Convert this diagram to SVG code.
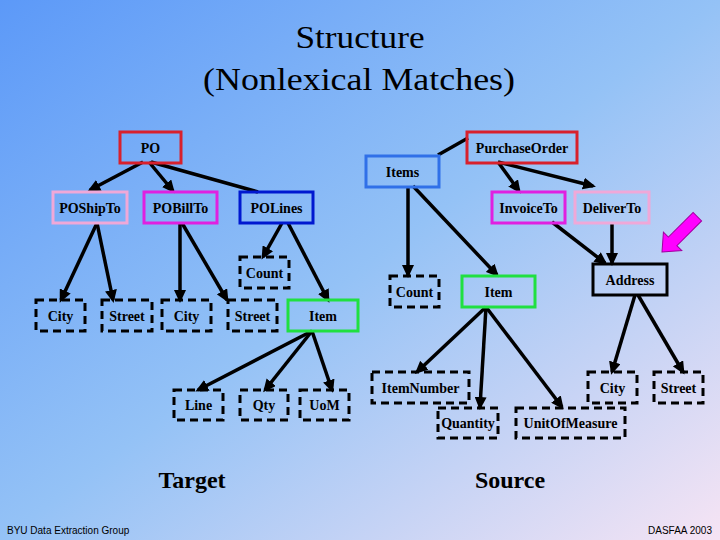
<svg xmlns="http://www.w3.org/2000/svg" width="720" height="540" viewBox="0 0 720 540">
<defs>
<linearGradient id="bg" x1="0" y1="0" x2="1" y2="1">
<stop offset="0" stop-color="#5c99f8"/>
<stop offset="0.5" stop-color="#94c2f6"/>
<stop offset="1" stop-color="#f6e4f4"/>
</linearGradient>
<marker id="ah" markerUnits="userSpaceOnUse" markerWidth="13" markerHeight="12" refX="10" refY="6" orient="auto">
<path d="M0,0 L13,6 L0,12 z" fill="#000"/>
</marker>
<style>
.n{fill:none;stroke-width:3}
.d{fill:none;stroke:#000;stroke-width:3;stroke-dasharray:8 5}
.t{font-family:"Liberation Serif","Times New Roman",serif;font-size:14px;font-weight:bold;fill:#000;text-anchor:middle}
.c line{stroke:#000;stroke-width:3.5}
.a{marker-end:url(#ah)}
.title{font-family:"Liberation Serif","Times New Roman",serif;font-size:32px;fill:#000;text-anchor:middle}
.big{font-family:"Liberation Serif","Times New Roman",serif;font-size:24px;font-weight:bold;fill:#000;text-anchor:middle}
.foot{font-family:"Liberation Sans",Arial,sans-serif;font-size:10px;fill:#000}
.red{stroke:#d8202c}.pink{stroke:#f0a8d8}.mag{stroke:#e020e0}.blue{stroke:#0018d0}.lblue{stroke:#3070e8}.green{stroke:#20e040}.blk{stroke:#000}
</style>
</defs>
<rect width="720" height="540" fill="url(#bg)"/>
<text class="title" x="360" y="48" textLength="129" lengthAdjust="spacingAndGlyphs">Structure</text>
<text class="title" x="359" y="90" textLength="312" lengthAdjust="spacingAndGlyphs">(Nonlexical Matches)</text>

<g id="connectors" class="c">
<line x1="143" y1="162" x2="90" y2="190" class="a"/>
<line x1="149" y1="162" x2="173" y2="191" class="a"/>
<line x1="151" y1="162" x2="258" y2="192"/>
<line x1="97" y1="223" x2="61" y2="300" class="a"/>
<line x1="97" y1="223" x2="113" y2="300" class="a"/>
<line x1="180" y1="223" x2="180" y2="300" class="a"/>
<line x1="182" y1="223" x2="227" y2="300" class="a"/>
<line x1="282" y1="223" x2="263" y2="257" class="a"/>
<line x1="288" y1="223" x2="328" y2="300" class="a"/>
<line x1="312" y1="331" x2="198" y2="390" class="a"/>
<line x1="312" y1="331" x2="265" y2="390" class="a"/>
<line x1="312" y1="331" x2="332" y2="390" class="a"/>
<line x1="468" y1="138" x2="438" y2="155"/>
<line x1="498" y1="162" x2="519" y2="191" class="a"/>
<line x1="498" y1="162" x2="593" y2="186" class="a"/>
<line x1="408" y1="187" x2="408" y2="275" class="a"/>
<line x1="413" y1="186" x2="497" y2="275" class="a"/>
<line x1="552" y1="222" x2="605" y2="263" class="a"/>
<line x1="612" y1="223" x2="612" y2="263" class="a"/>
<line x1="486" y1="307" x2="417" y2="372" class="a"/>
<line x1="486" y1="307" x2="480" y2="407" class="a"/>
<line x1="486" y1="307" x2="562" y2="407" class="a"/>
<line x1="635" y1="295" x2="612" y2="372" class="a"/>
<line x1="638" y1="295" x2="683" y2="372" class="a"/>
</g>

<g id="PO"><rect class="n red" x="120" y="132" width="61" height="31"/><text class="t" x="150.5" y="152.5">PO</text></g>
<g id="POShipTo"><rect class="n pink" x="53" y="192" width="74" height="31"/><text class="t" x="90" y="212.5">POShipTo</text></g>
<g id="POBillTo"><rect class="n mag" x="144" y="192" width="73" height="31"/><text class="t" x="180.5" y="212.5">POBillTo</text></g>
<g id="POLines"><rect class="n blue" x="240" y="192" width="73" height="31"/><text class="t" x="276.5" y="212.5">POLines</text></g>
<g id="T_Count"><rect class="d" x="240" y="257" width="49" height="31"/><text class="t" x="264.5" y="277.5">Count</text></g>
<g id="T_City1"><rect class="d" x="36" y="300" width="49" height="31"/><text class="t" x="60.5" y="320.5">City</text></g>
<g id="T_Street1"><rect class="d" x="102" y="300" width="50" height="31"/><text class="t" x="127" y="320.5">Street</text></g>
<g id="T_City2"><rect class="d" x="162" y="300" width="49" height="31"/><text class="t" x="186.5" y="320.5">City</text></g>
<g id="T_Street2"><rect class="d" x="228" y="300" width="49" height="31"/><text class="t" x="252.5" y="320.5">Street</text></g>
<g id="T_Item"><rect class="n green" x="288" y="300" width="70" height="31"/><text class="t" x="323" y="320.5">Item</text></g>
<g id="T_Line"><rect class="d" x="174" y="390" width="49" height="30"/><text class="t" x="198.5" y="410">Line</text></g>
<g id="T_Qty"><rect class="d" x="240" y="390" width="48" height="30"/><text class="t" x="264" y="410">Qty</text></g>
<g id="T_UoM"><rect class="d" x="300" y="390" width="49" height="30"/><text class="t" x="324.5" y="410">UoM</text></g>

<g id="PurchaseOrder"><rect class="n red" x="467" y="132" width="110" height="31"/><text class="t" x="522" y="152.5">PurchaseOrder</text></g>
<g id="Items"><rect class="n lblue" x="366" y="156" width="73" height="31"/><text class="t" x="402.5" y="176.5">Items</text></g>
<g id="InvoiceTo"><rect class="n mag" x="492" y="192" width="73" height="31"/><text class="t" x="528.5" y="212.5">InvoiceTo</text></g>
<g id="DeliverTo"><rect class="n pink" x="575" y="192" width="74" height="31"/><text class="t" x="612" y="212.5">DeliverTo</text></g>
<g id="Address"><rect class="n blk" x="593" y="264" width="74" height="31"/><text class="t" x="630" y="284.5">Address</text></g>
<g id="S_Count"><rect class="d" x="390" y="276" width="49" height="31"/><text class="t" x="414.5" y="296.5">Count</text></g>
<g id="S_Item"><rect class="n green" x="462" y="276" width="73" height="31"/><text class="t" x="498.5" y="296.5">Item</text></g>
<g id="ItemNumber"><rect class="d" x="372" y="372" width="97" height="31"/><text class="t" x="420.5" y="392.5">ItemNumber</text></g>
<g id="S_City"><rect class="d" x="588" y="372" width="49" height="31"/><text class="t" x="612.5" y="392.5">City</text></g>
<g id="S_Street"><rect class="d" x="654" y="372" width="49" height="31"/><text class="t" x="678.5" y="392.5">Street</text></g>
<g id="Quantity"><rect class="d" x="438" y="408" width="60" height="30"/><text class="t" x="468" y="428">Quantity</text></g>
<g id="UnitOfMeasure"><rect class="d" x="516" y="408" width="109" height="30"/><text class="t" x="570.5" y="428">UnitOfMeasure</text></g>

<g id="pointer"><polygon transform="translate(662,252) rotate(135)" points="0,0 -15,-13 -15,-6 -50,-6 -50,6 -15,6 -15,13" fill="#ff00ff" stroke="#a000a0" stroke-width="1"/></g>

<text class="big" x="192" y="488">Target</text>
<text class="big" x="510" y="488">Source</text>
<text class="foot" x="7" y="534">BYU Data Extraction Group</text>
<text class="foot" x="712" y="534" text-anchor="end">DASFAA 2003</text>
</svg>
